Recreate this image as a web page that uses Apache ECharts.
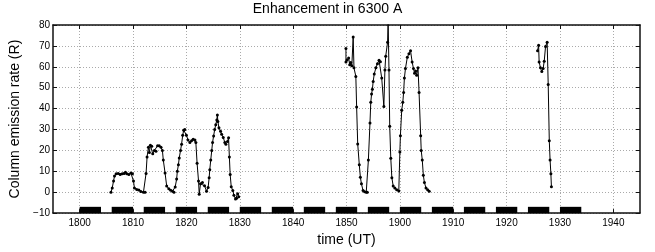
<!DOCTYPE html>
<html>
<head>
<meta charset="utf-8">
<script src="https://cdn.jsdelivr.net/npm/echarts@6/dist/echarts.min.js"></script>
<style>html,body{margin:0;padding:0;background:#fff}#c{width:655px;height:252px}</style>
</head>
<body>
<div id="c"></div>
<script>
// time in minutes after 18:00 UT
const xTicks = [0, 10, 20, 30, 40, 50, 60, 70, 80, 90, 100];
const yTicks = [-10, 0, 10, 20, 30, 40, 50, 60, 70, 80];

const seg1Time = [5.86,6.1,6.35,6.53,6.84,7.22,7.59,7.97,8.34,8.58,8.84,9.21,9.59,9.89,10.08,10.26,10.7,11.08,11.45,11.95,12.26,12.44,12.63,12.88,13.06,13.25,13.5,13.69,14.0,14.3,14.6,14.9,15.24,15.5,15.67,16.0,16.3,16.7,17.05,17.4,17.67,17.9,18.17,18.3,18.5,18.66,18.9,19.1,19.3,19.5,19.7,20.0,20.3,20.65,20.96,21.27,21.6,21.77,22.0,22.27,22.4,22.64,23.0,23.4,23.77,24.07,24.26,24.38,24.56,24.75,24.9,25.1,25.3,25.5,25.7,25.8,25.9,26.1,26.4,26.6,26.9,27.2,27.4,27.7,27.9,28.05,28.2,28.4,28.7,28.9,29.2,29.4,29.6,29.8];
const seg1Value = [0,2,5.4,7.7,8.8,9,8.5,8.8,9,9.6,8.8,8.5,9.2,8.8,5.4,2,1.3,1,0.3,0,0,9,16.9,21.5,19,22.5,22,18.4,20,19.6,22.2,22.2,21.5,20,15.4,9.2,3,1.6,0.9,0.5,0,2.5,6.3,10,13.1,16.4,20,23,27.2,29.7,30,27.2,25,23.8,24.6,25.3,25,23.8,13.9,5.4,-1,4,4.6,3.1,0.5,2.3,6.9,10.8,15.4,20,23.8,26.9,30,32.3,34.6,36.9,33.8,30.8,29.2,27.7,26.2,23.8,22.9,24.3,26,16.9,8.5,2.6,0.8,-1.5,-3.2,-2.9,-0.7,-2.2];

const seg2Time = [49.9,49.9,50.1,50.4,50.6,50.8,51.0,51.25,51.4,51.75,51.9,52.1,52.4,52.6,52.8,53.1,53.4,53.7,53.9,54.1,54.4,54.55,54.7,54.85,55.0,55.2,55.5,55.8,56.1,56.35,56.6,57.0,57.2,57.35,57.7,57.8,57.96,58.1,58.3,58.5,58.75,59.05,59.4,59.8,60.0,60.1,60.35,60.55,60.7,60.85,61.05,61.4,61.7,62.0,62.3,62.55,62.75,62.95,63.15,63.4,63.6,63.9,64.0,64.2,64.4,64.6,64.9,65.2,65.5];
const seg2Value = [68.8,62.3,63.2,64.2,61.0,62.0,60.5,74.3,59.5,55.4,40.8,23.1,13.1,7.2,4.0,0.8,0.2,0.0,0.0,15.4,33.1,43.0,47.0,49.2,53.0,56.5,59.5,61.5,63.1,62.4,54.6,41.0,58.5,65.1,71.8,82,58.5,31.5,16.2,6.9,3.0,2.0,1.2,0.6,19.2,27.0,39.2,43.0,47.7,54.6,59.2,64.6,66.2,67.7,62.3,59.2,56.9,58.0,56.0,59.5,47.7,27.0,20.0,15.4,8.1,4.6,2.0,1.2,0.5];

const seg3Time = [85.8,86.0,86.1,86.35,86.6,86.85,87.05,87.3,87.6,87.8,88.0,88.15,88.3,88.4];
const seg3Value = [67.7,70.3,62.3,59.5,57.7,59.2,62.6,69.7,71.8,51.5,24.6,15.4,8.8,2.6];

const barStart = [0, 6, 12, 18, 24, 30, 36, 42, 48, 54, 60, 66, 72, 78, 84, 90];
const barLength = 4;
const barBottom = -10, barTop = -7;

function zip(a, b) { return a.map((v, i) => [v, b[i]]); }
function hhmm(m) { const h = 18 + Math.floor(m / 60); const mm = m % 60; return String(h * 100 + mm); }

const FONT = 'Liberation Sans, Arial, Helvetica, sans-serif';
const AXC = '#111';
const lineSeries = (data) => ({
  type: 'line', data: data, xAxisIndex: 0, yAxisIndex: 0,
  symbol: 'circle', symbolSize: 3, showSymbol: true,
  lineStyle: { color: '#000', width: 1 },
  itemStyle: { color: '#000' },
  clip: true, animation: false, z: 5
});

const chart = echarts.init(document.getElementById('c'), null, { renderer: 'canvas' });
chart.setOption({
  animation: false,
  title: {
    text: 'Enhancement in 6300 A', left: 'center', top: 2, padding: 0,
    textStyle: { fontFamily: FONT, fontSize: 14, fontWeight: 'normal', color: '#000' }
  },
  grid: { left: 53, right: 15, top: 25, bottom: 32 },
  xAxis: [{
    type: 'value', min: -5, max: 105, position: 'bottom',
    name: 'time (UT)', nameLocation: 'middle', nameGap: 16,
    nameTextStyle: { fontFamily: FONT, fontSize: 14, color: '#000' },
    axisLine: { show: true, onZero: false, lineStyle: { color: AXC, width: 1.5 } },
    axisTick: { show: true, inside: true, length: 4, customValues: xTicks, lineStyle: { color: AXC } },
    axisLabel: { customValues: xTicks, formatter: hhmm, fontFamily: FONT, fontSize: 10, color: '#000', margin: 5 },
    splitLine: { show: true, lineStyle: { color: '#aaa', type: [1, 2], width: 1 } }
  }, {
    type: 'value', min: -5, max: 105, position: 'top',
    axisLine: { show: true, onZero: false, lineStyle: { color: AXC, width: 1.5 } },
    axisTick: { show: true, inside: true, length: 4, customValues: xTicks, lineStyle: { color: AXC } },
    axisLabel: { show: false },
    splitLine: { show: false }
  }],
  yAxis: [{
    type: 'value', min: -10, max: 80, interval: 10, position: 'left',
    name: 'Column emission rate (R)', nameLocation: 'middle', nameGap: 18,
    nameTextStyle: { fontFamily: FONT, fontSize: 14, color: '#000' },
    axisLine: { show: true, onZero: false, lineStyle: { color: AXC, width: 1.5 } },
    axisTick: { show: true, inside: true, length: 4, lineStyle: { color: AXC } },
    axisLabel: { fontFamily: FONT, fontSize: 10, color: '#000', margin: 3,
      formatter: v => (v < 0 ? '\u2212' + Math.abs(v) : String(v)) },
    splitLine: { show: true, lineStyle: { color: '#aaa', type: [1, 2], width: 1 } }
  }, {
    type: 'value', min: -10, max: 80, interval: 10, position: 'right',
    axisLine: { show: true, onZero: false, lineStyle: { color: AXC, width: 1.5 } },
    axisTick: { show: true, inside: true, length: 4, lineStyle: { color: AXC } },
    axisLabel: { show: false },
    splitLine: { show: false }
  }],
  series: [
    lineSeries(zip(seg1Time, seg1Value)),
    lineSeries(zip(seg2Time, seg2Value)),
    lineSeries(zip(seg3Time, seg3Value)),
    {
      type: 'custom', xAxisIndex: 0, yAxisIndex: 0, z: 4,
      data: barStart.map(s => [s, s + barLength]),
      renderItem: function (params, api) {
        const p1 = api.coord([api.value(0), barTop]);
        const p2 = api.coord([api.value(1), barBottom]);
        return { type: 'rect', shape: { x: p1[0], y: p1[1], width: p2[0] - p1[0], height: p2[1] - p1[1] }, style: { fill: '#000' } };
      }
    }
  ]
});
</script>
</body>
</html>
